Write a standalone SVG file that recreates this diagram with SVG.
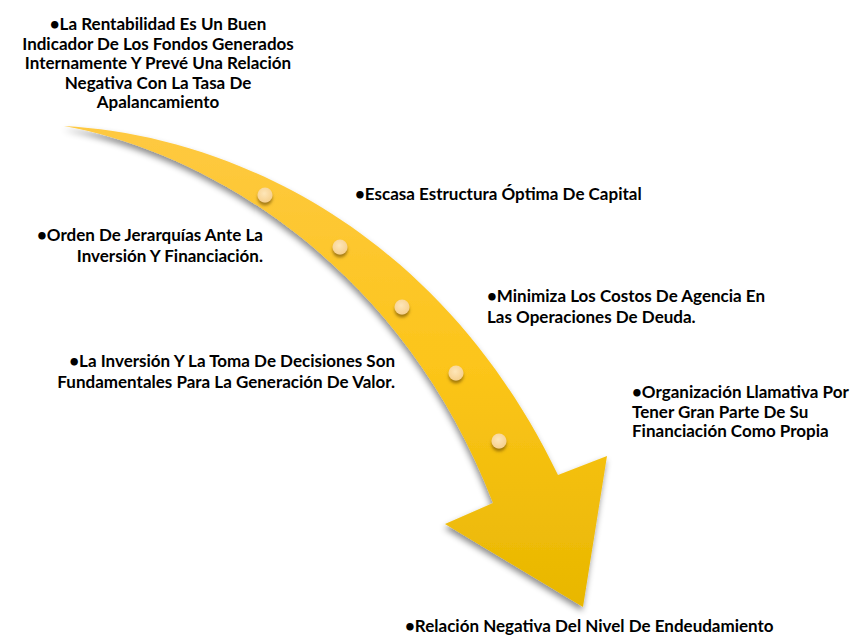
<svg xmlns="http://www.w3.org/2000/svg" width="853" height="637" viewBox="0 0 853 637">
<defs>
<linearGradient id="ag" x1="0" y1="126" x2="0" y2="607" gradientUnits="userSpaceOnUse">
<stop offset="0" stop-color="#FEC942"/>
<stop offset="0.5" stop-color="#FCC51A"/>
<stop offset="1" stop-color="#E8B700"/>
</linearGradient>
<radialGradient id="dg" cx="0.45" cy="0.4" r="0.6">
<stop offset="0" stop-color="#FEE6B8"/>
<stop offset="1" stop-color="#F6D08E"/>
</radialGradient>
<filter id="sh" x="-20%" y="-20%" width="140%" height="140%">
<feDropShadow dx="-1" dy="4" stdDeviation="3" flood-color="#000" flood-opacity="0.45"/>
</filter>
<filter id="dsh" x="-50%" y="-50%" width="200%" height="200%">
<feDropShadow dx="0" dy="3" stdDeviation="1.8" flood-color="#6a4a00" flood-opacity="0.6"/>
</filter>
</defs>
<style>
text{font-family:Lato,"Liberation Sans",sans-serif;font-weight:700;font-size:17px;fill:#000}
.m{text-anchor:middle}
.e{text-anchor:end}
.dot{fill:url(#dg);filter:url(#dsh)}
</style>
<g id="arrow">
<path d="M64,126 C230,135 440,230 558,475 L607,456 L583,607 L445,524 L493,503 C400,260 200,150 64,126 Z" fill="url(#ag)" filter="url(#sh)"/>
<circle class="dot" cx="265" cy="195" r="7.5"/>
<circle class="dot" cx="340" cy="247" r="7.5"/>
<circle class="dot" cx="402" cy="307" r="7.5"/>
<circle class="dot" cx="456" cy="373" r="7.5"/>
<circle class="dot" cx="499" cy="441" r="7.5"/>
</g>
<g id="connectors"/>
<g id="n1">
<text class="m" x="158" y="30">•La Rentabilidad Es Un Buen</text>
<text class="m" x="158" y="50">Indicador De Los Fondos Generados</text>
<text class="m" x="158" y="69">Internamente Y Prevé Una Relación</text>
<text class="m" x="158" y="89">Negativa Con La Tasa De</text>
<text class="m" x="158" y="108">Apalancamiento</text>
</g>
<g id="n2">
<text x="355" y="200">•Escasa Estructura Óptima De Capital</text>
</g>
<g id="n3">
<text class="e" x="263" y="241">•Orden De Jerarquías Ante La</text>
<text class="e" x="263" y="262">Inversión Y Financiación.</text>
</g>
<g id="n4">
<text x="487" y="302">•Minimiza Los Costos De Agencia En</text>
<text x="487" y="323">Las Operaciones De Deuda.</text>
</g>
<g id="n5">
<text class="e" x="395" y="367">•La Inversión Y La Toma De Decisiones Son</text>
<text class="e" x="395" y="388">Fundamentales Para La Generación De Valor.</text>
</g>
<g id="n6">
<text x="632" y="398">•Organización Llamativa Por</text>
<text x="632" y="418">Tener Gran Parte De Su</text>
<text x="632" y="437">Financiación Como Propia</text>
</g>
<g id="n7">
<text x="405" y="632">•Relación Negativa Del Nivel De Endeudamiento</text>
</g>
</svg>
